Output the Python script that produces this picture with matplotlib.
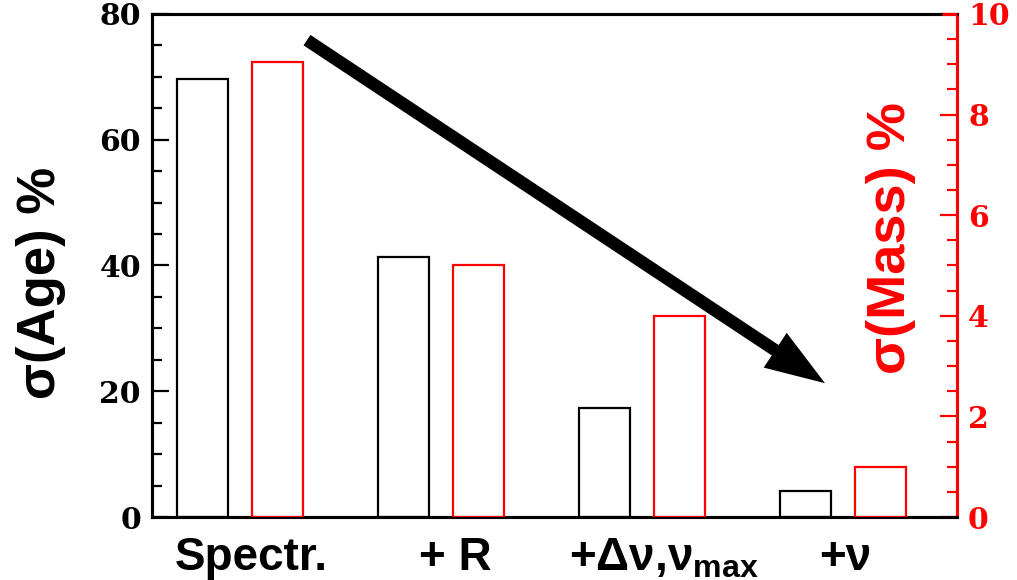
import matplotlib
matplotlib.use("Agg")
import matplotlib.pyplot as plt
import numpy as np

# Uncertainties obtained with each added constraint
categories = ["Spectr.", "+ R", "+\u0394\u03bd,\u03bd$_{\\mathbf{max}}$", "+\u03bd"]
age_err = [69.7, 41.3, 17.3, 4.1]     # sigma(Age) in %
mass_err = [9.05, 5.0, 4.0, 1.0]      # sigma(Mass) in %

plt.rcParams["mathtext.fontset"] = "custom"
plt.rcParams["mathtext.rm"] = "Liberation Sans"
plt.rcParams["mathtext.bf"] = "Liberation Sans:bold"

fig = plt.figure(figsize=(10.17, 5.80), dpi=100)
ax = fig.add_axes([0.1495, 0.1086, 0.7915, 0.8673])
ax2 = ax.twinx()

x = np.arange(len(categories))
w = 0.254
off = 0.187

ax.bar(x - off, age_err, width=w, facecolor="none", edgecolor="black", linewidth=1.6, zorder=3)
ax2.bar(x + off, mass_err, width=w, facecolor="none", edgecolor="red", linewidth=1.6, zorder=3)

ax.set_xlim(-0.438, 3.567)
ax.set_ylim(0, 80)
ax2.set_ylim(0, 10)

tick_font = dict(family="DejaVu Serif", weight="bold", size=21.5)

ax.set_yticks(np.arange(0, 81, 20))
ax.set_yticks(np.arange(0, 81, 5), minor=True)
ax.set_yticklabels([str(v) for v in range(0, 81, 20)], fontdict=tick_font)
ax.tick_params(axis="y", which="major", direction="in", length=12, width=1.6, pad=8)
ax.tick_params(axis="y", which="minor", direction="in", length=7, width=1.6)

ax2.set_yticks(np.arange(0, 11, 2))
ax2.set_yticks(np.arange(0, 10.1, 0.5), minor=True)
ax2.set_yticklabels([str(v) for v in range(0, 11, 2)], fontdict=tick_font, color="red")
ax2.tick_params(axis="y", which="major", direction="in", length=12, width=1.6, pad=8, colors="red")
ax2.tick_params(axis="y", which="minor", direction="in", length=7, width=1.6, colors="red")

# category labels sit slightly right of the group centres
ax.set_xticks([0.055, 1.07, 2.11, 3.01])
ax.set_xticklabels(categories, fontsize=33, fontweight="bold", family="Liberation Sans")
ax.tick_params(axis="x", length=0, pad=14)

for a in (ax, ax2):
    for s in a.spines.values():
        s.set_linewidth(2.2)
        s.set_color("black")
ax2.spines["right"].set_color("red")
# the right-hand axis frame continues in red along the top edge
ax2.plot([0.981, 1.0], [1.0, 1.0], transform=ax2.transAxes, color="red",
         lw=2.2, clip_on=False, solid_capstyle="butt", zorder=6)

fig.text(0.040, 0.512, "\u03c3(Age) %", rotation=90, ha="center", va="center",
         fontsize=38, fontweight="bold", family="Liberation Sans", color="black")
fig.text(0.876, 0.590, "\u03c3(Mass) %", rotation=90, ha="center", va="center",
         fontsize=39, fontweight="bold", family="Liberation Sans", color="red")

ax.annotate("", xy=(0.836, 0.266), xytext=(0.1925, 0.948),
            xycoords="axes fraction", textcoords="axes fraction",
            arrowprops=dict(arrowstyle="simple,head_length=4.3,head_width=3.0,tail_width=0.9",
                            mutation_scale=10, lw=0, facecolor="black", edgecolor="none",
                            shrinkA=0, shrinkB=0), zorder=5)

fig.savefig("out.png", dpi=100)
